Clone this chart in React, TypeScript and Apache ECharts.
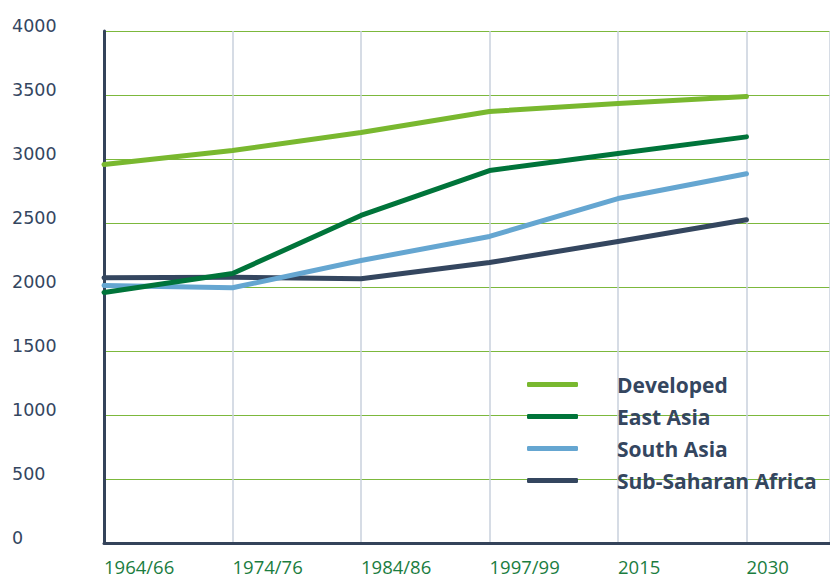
import React, { useEffect, useRef } from "react";
import * as echarts from "echarts";

const categories = ["1964/66", "1974/76", "1984/86", "1997/99", "2015", "2030"];
const developed = [2957, 3066, 3207, 3371, 3434, 3488];
const eastAsia = [1957, 2105, 2559, 2910, 3043, 3173];
const southAsia = [2012, 1994, 2207, 2395, 2691, 2885];
const subSaharan = [2072, 2077, 2064, 2191, 2355, 2525];
const seriesNames = ["Developed", "East Asia", "South Asia", "Sub-Saharan Africa"];
const seriesColors = ["#79b82f", "#00743a", "#65a6d1", "#34465f"];

export default function App() {
  const ref = useRef<HTMLDivElement>(null);
  useEffect(() => {
    if (!ref.current) return;
    const chart = echarts.init(ref.current, null, { renderer: "svg" });
    const all = [developed, eastAsia, southAsia, subSaharan];
    chart.setOption({
      animation: false,
      grid: { left: 104, top: 31, right: 0, bottom: 36, containLabel: false },
      legend: {
        orient: "vertical",
        left: 522,
        top: 369,
        itemWidth: 51,
        itemHeight: 5,
        itemGap: 11,
        icon: "roundRect",
        data: seriesNames,
        textStyle: {
          fontFamily: "Open Sans",
          fontWeight: "bold",
          fontSize: 21,
          color: "#34465f",
          padding: [0, 0, 0, 34],
        },
      },
      xAxis: {
        type: "value",
        min: 0,
        max: 5.65,
        interval: 1,
        axisLine: { show: true, lineStyle: { color: "#34435a", width: 3 } },
        axisTick: { show: false },
        splitLine: { show: true, lineStyle: { color: "#c9d0dc", width: 1.5 } },
        axisLabel: {
          showMinLabel: true,
          showMaxLabel: false,
          hideOverlap: false,
          align: "left",
          margin: 15,
          lineHeight: 16,
          fontFamily: "Open Sans",
          fontSize: 18.5,
          color: "#1b7d3f",
          formatter: (v: number) => {
            const i = Math.round(v);
            if (Math.abs(v - i) > 1e-6 || !categories[i]) return "";
            return categories[i];
          },
        },
      },
      yAxis: {
        type: "value",
        min: 0,
        max: 4000,
        interval: 500,
        axisLine: { show: true, lineStyle: { color: "#34435a", width: 3 } },
        axisTick: { show: false },
        splitLine: { show: true, lineStyle: { color: "#7cb83c", width: 1 } },
        axisLabel: {
          align: "left",
          verticalAlign: "bottom",
          lineHeight: 10,
          margin: 92,
          fontFamily: "DejaVu Sans",
          fontSize: 17.5,
          color: "#34465f",
          formatter: (v: number) => String(v),
        },
      },
      series: all.map((vals, k) => ({
        name: seriesNames[k],
        type: "line",
        showSymbol: false,
        symbol: "none",
        color: seriesColors[k],
        lineStyle: { color: seriesColors[k], width: 5, cap: "round", join: "round" },
        itemStyle: { color: seriesColors[k] },
        data: vals.map((v, i) => [i, v]),
        z: 10 - k,
      })),
    });
    return () => chart.dispose();
  }, []);
  return <div ref={ref} style={{ width: 830, height: 579, position: "absolute", left: 0, top: 0 }} />;
}
